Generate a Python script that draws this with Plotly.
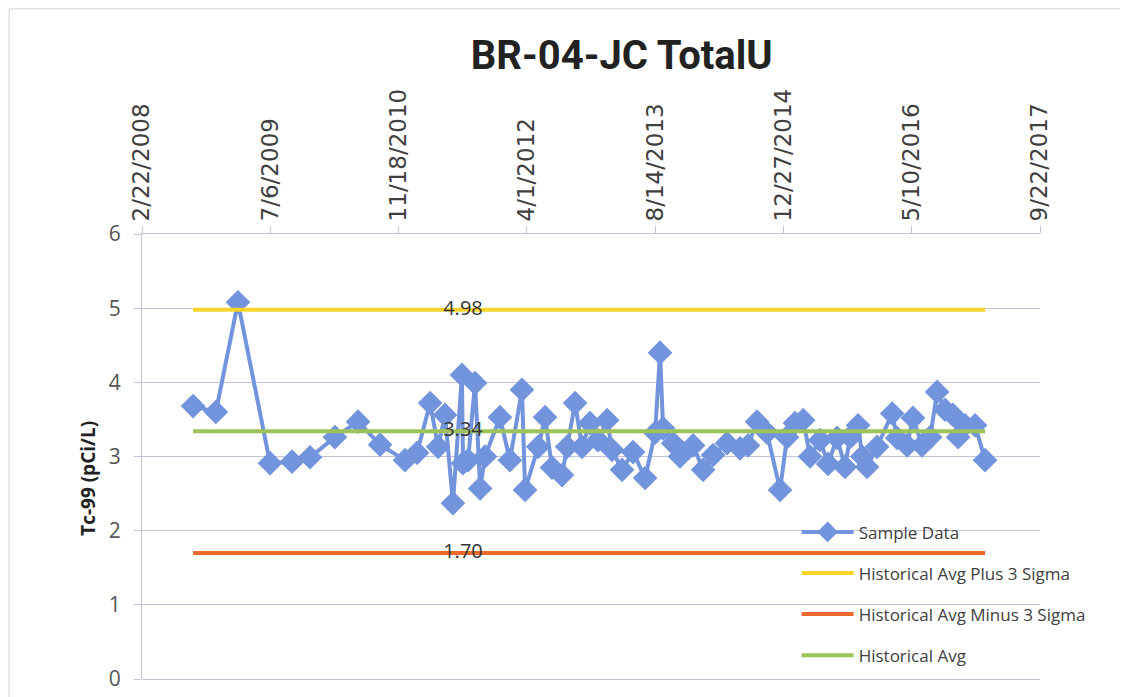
import plotly.graph_objects as go

# sample results
sample_dates = [
    "2008-09-08", "2008-12-06", "2009-03-02", "2009-07-05", "2009-09-29",
    "2009-12-08", "2010-03-15", "2010-06-13", "2010-09-07", "2010-12-13",
    "2011-01-29", "2011-03-21", "2011-04-21", "2011-05-18", "2011-06-18",
    "2011-07-23", "2011-07-27", "2011-08-16", "2011-09-12", "2011-10-02",
    "2011-10-21", "2011-12-18", "2012-01-26", "2012-03-13", "2012-03-25",
    "2012-05-15", "2012-06-11", "2012-07-08", "2012-08-16", "2012-09-05",
    "2012-10-06", "2012-11-02", "2012-12-03", "2013-01-03", "2013-02-08",
    "2013-02-27", "2013-04-07", "2013-05-20", "2013-07-06", "2013-08-14",
    "2013-09-02", "2013-09-14", "2013-10-23", "2013-11-19", "2013-12-01",
    "2014-01-09", "2014-02-17", "2014-03-28", "2014-05-21", "2014-07-11",
    "2014-08-11", "2014-09-15", "2014-10-24", "2014-12-14", "2015-01-10",
    "2015-02-10", "2015-03-14", "2015-04-10", "2015-05-19", "2015-06-19",
    "2015-07-24", "2015-08-24", "2015-09-13", "2015-10-14", "2015-10-30",
    "2015-11-18", "2015-12-27", "2016-02-24", "2016-03-14", "2016-04-22",
    "2016-05-15", "2016-06-19", "2016-07-21", "2016-08-17", "2016-09-17",
    "2016-10-18", "2016-11-07", "2016-12-04", "2017-01-12", "2017-02-20",
]
sample_values = [
    3.68, 3.60, 5.08, 2.91, 2.93,
    2.99, 3.26, 3.47, 3.16, 2.95,
    3.05, 3.72, 3.13, 3.56, 2.37,
    4.10, 2.91, 2.95, 3.99, 2.57,
    3.00, 3.53, 2.95, 3.90, 2.55,
    3.13, 3.53, 2.85, 2.75, 3.13,
    3.72, 3.13, 3.45, 3.22, 3.49,
    3.09, 2.82, 3.06, 2.71, 3.32,
    4.40, 3.38, 3.18, 3.00, 3.05,
    3.15, 2.82, 3.02, 3.18, 3.11,
    3.15, 3.47, 3.32, 2.55, 3.26,
    3.45, 3.49, 3.00, 3.22, 2.90,
    3.25, 2.86, 3.26, 3.42, 3.00,
    2.86, 3.13, 3.58, 3.25, 3.15,
    3.52, 3.15, 3.26, 3.87, 3.63,
    3.56, 3.26, 3.42, 3.42, 2.95,
]

# control limits
hist_avg = 3.34
plus_3sigma = 4.98
minus_3sigma = 1.70
label_date = "2011-07-27"

tick_start = "2008-02-22"
tick_end = "2017-09-22"
tick_step_days = 500

BLUE = "#7194dc"
YELLOW = "#f7d42a"
ORANGE = "#ec6a2e"
GREEN = "#9cc25a"
GRID = "#c3c3dd"
TEXT = "#404040"

line_x = [sample_dates[0], sample_dates[-1]]

fig = go.Figure()

fig.add_trace(go.Scatter(
    x=sample_dates, y=sample_values, name="Sample Data", mode="lines+markers",
    line=dict(color=BLUE, width=4),
    marker=dict(symbol="diamond", size=19, color=BLUE),
    legendgroup="a",
))
fig.add_trace(go.Scatter(
    x=line_x, y=[plus_3sigma] * 2, name="Historical Avg Plus 3 Sigma",
    mode="lines", line=dict(color=YELLOW, width=4), legendgroup="b",
))
fig.add_trace(go.Scatter(
    x=line_x, y=[minus_3sigma] * 2, name="Historical Avg Minus 3 Sigma",
    mode="lines", line=dict(color=ORANGE, width=4), legendgroup="c",
))
fig.add_trace(go.Scatter(
    x=line_x, y=[hist_avg] * 2, name="Historical Avg",
    mode="lines", line=dict(color=GREEN, width=4), legendgroup="d",
))

# value labels on the limit lines
fig.add_trace(go.Scatter(
    x=[label_date] * 3, y=[plus_3sigma, hist_avg, minus_3sigma],
    text=[f"{v:.2f}" for v in (plus_3sigma, hist_avg, minus_3sigma)],
    mode="text", textposition="middle center",
    textfont=dict(family="Open Sans", size=20, color="#333333"),
    showlegend=False, hoverinfo="skip",
))

# page body adds an 8px offset, so the figure is 8px smaller each way
fig.update_layout(
    width=1120, height=689,
    margin=dict(l=134, r=88, t=226, b=18),
    paper_bgcolor="white", plot_bgcolor="white",
    title=dict(text="<b>BR-04-JC TotalU</b>", x=0.548, y=0.932,
               xanchor="center", yanchor="middle",
               font=dict(family="Roboto", size=40, color="#222222")),
    xaxis=dict(
        type="date", side="top", automargin=False,
        range=[tick_start, tick_end],
        tick0=tick_start, dtick=tick_step_days * 86400000,
        tickformat="%-m/%-d/%Y", tickangle=-90,
        ticks="outside", ticklen=7, tickcolor=GRID,
        showgrid=False, showline=True, linecolor=GRID, linewidth=1,
        tickfont=dict(family="DejaVu Sans", size=23, color=TEXT),
    ),
    yaxis=dict(
        range=[0, 6], dtick=1, automargin=False,
        ticks="outside", ticklen=7, tickcolor=GRID, ticklabelstandoff=9,
        showgrid=True, gridcolor=GRID, gridwidth=1,
        zeroline=True, zerolinecolor=GRID, zerolinewidth=1,
        showline=True, linecolor=GRID, linewidth=1,
        tickfont=dict(family="Open Sans", size=21, color="#555555"),
    ),
    annotations=[dict(
        text="<b>Tc-99 (pCi/L)</b>", textangle=-90,
        xref="paper", yref="paper", x=-0.06, y=0.45,
        xanchor="center", yanchor="middle", showarrow=False,
        font=dict(family="Open Sans", size=19, color="#222222"),
    )],
    legend=dict(
        x=0.729, y=0.37, xanchor="left", yanchor="top",
        bgcolor="rgba(0,0,0,0)", tracegroupgap=16, itemwidth=52,
        font=dict(family="Open Sans", size=17, color=TEXT),
    ),
    shapes=[dict(type="rect", xref="paper", yref="paper",
                 x0=-0.148, x1=1.2, y0=-0.1, y1=1.506,
                 line=dict(color="#d4d4d4", width=1))],
)

fig.write_html("out.html")
